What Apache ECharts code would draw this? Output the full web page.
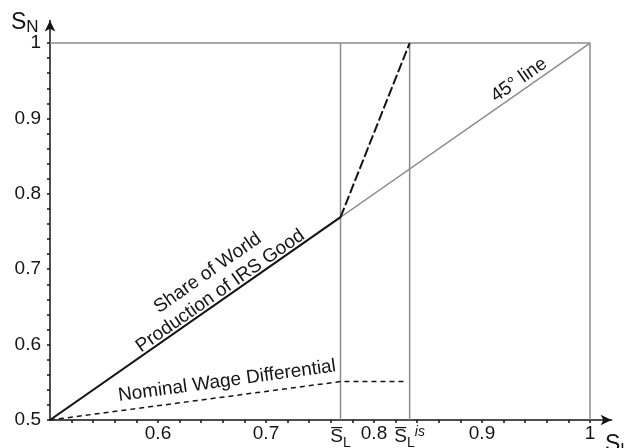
<!DOCTYPE html>
<html><head><meta charset="utf-8">
<script src="https://cdn.jsdelivr.net/npm/echarts@6/dist/echarts.min.js"></script>
<style>html,body{margin:0;padding:0;background:#fff}#c{width:624px;height:448px}</style>
</head><body><div id="c"></div>
<script>
// ---- data ----
const sL = 0.769, sLis = 0.833;
const shareX = [0.5, 0.769];
const shareY = [0.5, 0.769];
const shareUpX = [0.769, 0.833];
const shareUpY = [0.769, 1.0];
const wageX = [0.5, 0.769, 0.83];
const wageY = [0.5, 0.551, 0.551];
const diagX = [0.5, 1.0];
const diagY = [0.5, 1.0];
const topX = [0.5, 1.0];
const topY = [1.0, 1.0];
const vertX = [0.769, 0.833, 1.0];
const vertY = [0.5, 1.0];
const xLabelValues = [0.6, 0.7, 0.769, 0.8, 0.833, 0.9, 1];
const xLabelTexts = ['0.6', '0.7', '{s|S\u0305}{sub|L}', '0.8', '{s|S\u0305}{sub|L}{sup|is}', '0.9', '1'];
const yLabelValues = [0.5, 0.6, 0.7, 0.8, 0.9, 1];
const yLabelTexts = ['0.5', '0.6', '0.7', '0.8', '0.9', '1'];
const xTicks = [0.52,0.54,0.56,0.58,0.6,0.62,0.64,0.66,0.68,0.7,0.72,0.74,0.76,0.78,0.8,0.82,0.84,0.86,0.88,0.9,0.92,0.94,0.96,0.98,1.0];
const yTicks = [0.5,0.52,0.54,0.56,0.58,0.6,0.62,0.64,0.66,0.68,0.7,0.72,0.74,0.76,0.78,0.8,0.82,0.84,0.86,0.88,0.9,0.92,0.94,0.96,0.98,1.0];

const zip = (xs, ys) => xs.map((x, i) => [x, ys[i]]);
const FONT = 'Liberation Sans';
const GRAY = '#8c8c8c';
const INK = '#151515';
const FS = 19;

function findLabel(vals, texts, v) {
  for (let i = 0; i < vals.length; i++) if (Math.abs(vals[i] - v) < 1e-6) return texts[i];
  return '';
}

const series = [];
function line(data, color, width, type, z) {
  series.push({ type: 'line', data, showSymbol: false, symbol: 'none', animation: false, silent: true,
    lineStyle: { color, width, type }, z });
}
line(zip(topX, topY), GRAY, 1.5, 'solid', 1);
vertX.forEach(x => line(vertY.map(y => [x, y]), GRAY, 1.5, 'solid', 1));
line(zip(diagX, diagY), GRAY, 1.5, 'solid', 1);
line(zip(shareX, shareY), INK, 2, 'solid', 3);
line(zip(shareUpX, shareUpY), INK, 2, [10, 3], 3);
line(zip(wageX, wageY), INK, 1.5, [5, 4], 3);

const chart = echarts.init(document.getElementById('c'), null, { renderer: 'canvas' });
chart.setOption({
  animation: false,
  backgroundColor: '#fff',
  grid: { left: 50, right: 12.4, top: 20.4, bottom: 28, containLabel: false, outerBoundsMode: 'none' },
  xAxis: {
    type: 'value', min: 0.5, max: 1.02,
    splitLine: { show: false },
    axisLine: { onZero: false, lineStyle: { color: INK, width: 1.5 }, symbol: ['none', 'arrow'], symbolSize: [8, 11] },
    axisTick: { show: true, length: 3, customValues: xTicks, lineStyle: { color: INK, width: 1.5 } },
    axisLabel: {
      customValues: xLabelValues, margin: 4, color: INK, fontFamily: FONT, fontSize: FS,
      formatter: v => findLabel(xLabelValues, xLabelTexts, v),
      rich: {
        s: { fontFamily: FONT, fontSize: FS, color: INK },
        sub: { fontFamily: FONT, fontSize: 14, color: INK, padding: [12, 0, 0, 0] },
        sup: { fontFamily: FONT, fontSize: 14, fontStyle: 'italic', color: INK, padding: [0, 0, 10, 0] }
      }
    }
  },
  yAxis: {
    type: 'value', min: 0.5, max: 1.03,
    splitLine: { show: false },
    axisLine: { onZero: false, lineStyle: { color: INK, width: 1.5 }, symbol: ['none', 'arrow'], symbolSize: [8, 11] },
    axisTick: { show: true, length: 3, customValues: yTicks, lineStyle: { color: INK, width: 1.5 } },
    axisLabel: {
      customValues: yLabelValues, margin: 9, color: INK, fontFamily: FONT, fontSize: FS,
      formatter: v => findLabel(yLabelValues, yLabelTexts, v)
    }
  },
  graphic: [
    { type: 'text', x: 11, y: 9, silent: true,
      style: { text: '{s|S}{n|N}', rich: {
        s: { fontFamily: FONT, fontSize: 23, fill: INK },
        n: { fontFamily: FONT, fontSize: 17, fill: INK, padding: [10, 0, 0, 0] } } } },
    { type: 'text', x: 605, y: 430, silent: true,
      style: { text: '{s|S}{n|L}', rich: {
        s: { fontFamily: FONT, fontSize: 23, fill: INK },
        n: { fontFamily: FONT, fontSize: 17, fill: INK, padding: [12, 0, 0, 0] } } } },
    { type: 'text', x: 214, y: 282, rotation: 34.9 * Math.PI / 180, silent: true,
      style: { text: 'Share of World\nProduction of IRS Good', fontFamily: FONT, fontSize: FS, lineHeight: 22,
        fill: INK, align: 'center', verticalAlign: 'middle' } },
    { type: 'text', x: 227, y: 381, rotation: 7.8 * Math.PI / 180, silent: true,
      style: { text: 'Nominal Wage Differential', fontFamily: FONT, fontSize: FS,
        fill: INK, align: 'center', verticalAlign: 'middle' } },
    { type: 'text', x: 519, y: 80, rotation: 34.9 * Math.PI / 180, silent: true,
      style: { text: '45° line', fontFamily: FONT, fontSize: FS,
        fill: INK, align: 'center', verticalAlign: 'middle' } }
  ],
  series
});
</script></body></html>
